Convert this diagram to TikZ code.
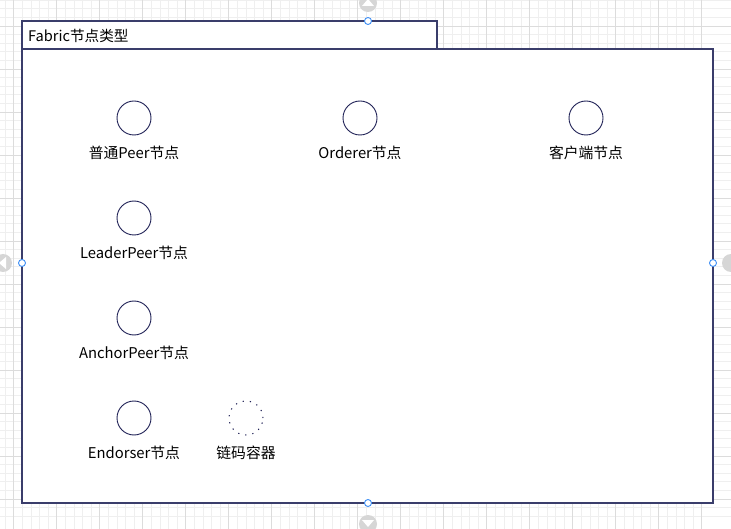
\documentclass[tikz,border=0pt]{standalone}
\usepackage{fontspec}
\setmainfont{Noto Sans CJK SC}
\begin{document}
\begin{tikzpicture}[x=1pt,y=-1pt,
  frame/.style={draw=frameblue,line width=1.1pt},
  nodecirc/.style={circle,draw=circblue,line width=0.9pt,minimum size=34pt,inner sep=0pt},
  dotcirc/.style={circle,draw=circblue,line width=1pt,dash pattern=on 1.2pt off 6pt,minimum size=34pt,inner sep=0pt},
  lbl/.style={font=\fontsize{14.8}{17}\selectfont,text=black,inner sep=0pt},
  handle/.style={circle,draw=handleblue,fill=white,line width=0.9pt,minimum size=7pt,inner sep=0pt},
  hover/.style={circle,fill=hovergray,minimum size=18pt,inner sep=0pt}
]
\definecolor{frameblue}{HTML}{3A3D6B}
\definecolor{circblue}{HTML}{1F2156}
\definecolor{handleblue}{HTML}{3D8EF5}
\definecolor{hovergray}{HTML}{D6D6D6}
\definecolor{gridminor}{HTML}{EFEFEF}
\definecolor{gridmajor}{HTML}{DCDCDC}
\useasboundingbox (0,0) rectangle (731,529);
\fill[white] (0,0) rectangle (731,529);
% grid
\foreach \i in {0,...,85} {
  \draw[gridminor,line width=0.8pt] ({13.7-43+\i*8.6},0) -- ({13.7-43+\i*8.6},529);
}
\foreach \i in {0,...,62} {
  \draw[gridminor,line width=0.8pt] (0,{26-43+\i*8.6}) -- (731,{26-43+\i*8.6});
}
\foreach \i in {0,...,17} {
  \draw[gridmajor,line width=0.8pt] ({13.7+\i*43},0) -- ({13.7+\i*43},529);
}
\foreach \i in {0,...,12} {
  \draw[gridmajor,line width=0.8pt] (0,{26+\i*43}) -- (731,{26+\i*43});
}
% hover arrows (partly cut)
\node[hover] (hT) at (368,3) {};
\fill[white] (362,6) -- (374,6) -- (368,-1) -- cycle;
\node[hover] (hL) at (3,263) {};
\fill[white] (6,257) -- (6,269) -- (-1,263) -- cycle;
\node[hover] (hR) at (731,263) {};
\node[hover] (hB) at (368,524) {};
\fill[white] (362,520) -- (374,520) -- (368,527) -- cycle;
% frame
\filldraw[frame,fill=white] (22,49) rectangle (713,503);
\filldraw[frame,fill=white] (22,21) rectangle (437,49);
\draw[frame] (437,49) -- (455,49);
\node[lbl,anchor=west,font=\fontsize{14.6}{17}\selectfont] (title) at (28,35.5) {Fabric节点类型};
% nodes
\node[nodecirc] (c1) at (134,118) {};
\node[lbl] (l1) at (134,153) {普通Peer节点};
\node[nodecirc] (c2) at (360,118) {};
\node[lbl] (l2) at (360,153) {Orderer节点};
\node[nodecirc] (c3) at (586,118) {};
\node[lbl] (l3) at (586,153) {客户端节点};
\node[nodecirc] (c4) at (134,218) {};
\node[lbl] (l4) at (134,253) {LeaderPeer节点};
\node[nodecirc] (c5) at (134,318) {};
\node[lbl] (l5) at (134,353) {AnchorPeer节点};
\node[nodecirc] (c6) at (134,418) {};
\node[lbl] (l6) at (134,453) {Endorser节点};
\node[dotcirc] (c7) at (246,418) {};
\node[lbl] (l7) at (246,453) {链码容器};
% handles
\node[handle] (h1) at (368,21) {};
\node[handle] (h2) at (22,263) {};
\node[handle] (h3) at (713,263) {};
\node[handle] (h4) at (368,503) {};
\end{tikzpicture}
\end{document}
